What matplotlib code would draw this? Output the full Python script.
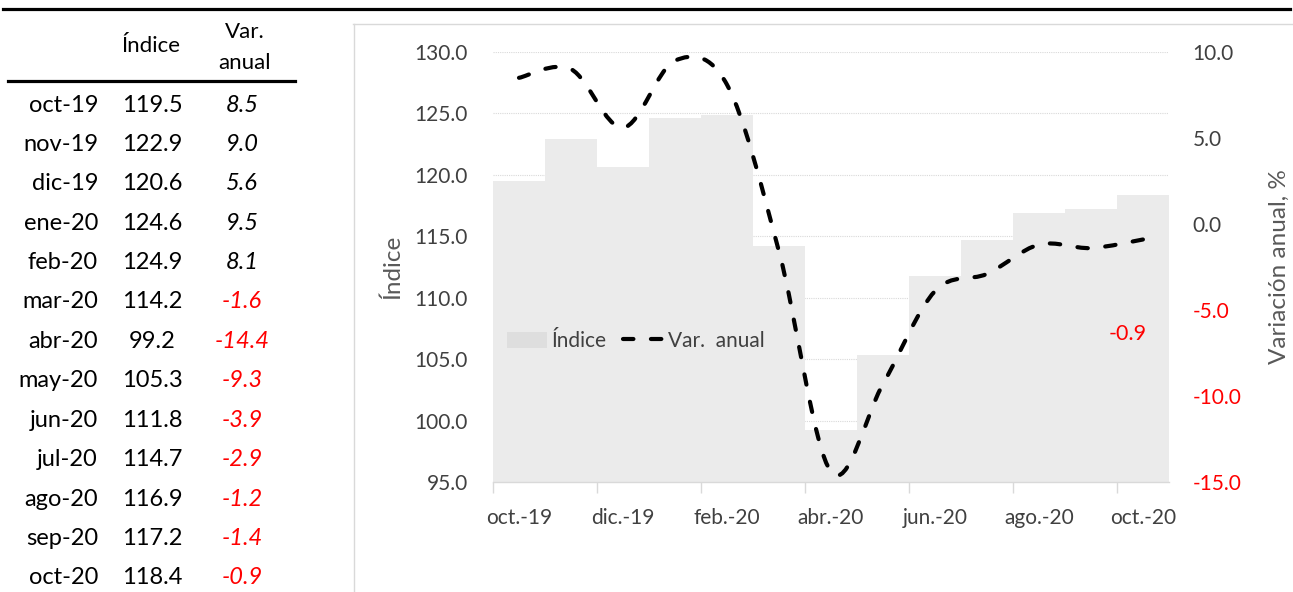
import numpy as np
import matplotlib
matplotlib.use("Agg")
import matplotlib.pyplot as plt
from matplotlib.path import Path
from matplotlib.patches import PathPatch, Patch
from matplotlib.lines import Line2D

# ---------------- data ----------------
months = ["oct-19", "nov-19", "dic-19", "ene-20", "feb-20", "mar-20", "abr-20",
          "may-20", "jun-20", "jul-20", "ago-20", "sep-20", "oct-20"]
indice = [119.5, 122.9, 120.6, 124.6, 124.9, 114.2, 99.2,
          105.3, 111.8, 114.7, 116.9, 117.2, 118.4]
var_anual = [8.5, 9.0, 5.6, 9.5, 8.1, -1.6, -14.4,
             -9.3, -3.9, -2.9, -1.2, -1.4, -0.9]
axis_month_labels = ["oct.-19", "dic.-19", "feb.-20", "abr.-20", "jun.-20", "ago.-20", "oct.-20"]
left_ticks = [95, 100, 105, 110, 115, 120, 125, 130]
right_ticks = [-15, -10, -5, 0, 5, 10]

FONT = "Lato"
plt.rcParams["font.family"] = [FONT, "DejaVu Sans"]

W, H = 1293, 592
fig = plt.figure(figsize=(W / 100, H / 100), dpi=100)
fig.patch.set_facecolor("white")


def fx(px):
    return px / W


def fy(py):
    return 1 - py / H


# ---------------- decorative lines ----------------
fig.add_artist(Line2D([fx(3), fx(1290)], [fy(8.5), fy(8.5)], color="black", lw=2.3))
fig.add_artist(Line2D([fx(8), fx(295)], [fy(80.5), fy(80.5)], color="black", lw=2.3))
# chart area border
fig.add_artist(Line2D([fx(353), fx(1293)], [fy(23.5), fy(23.5)], color="#D9D9D9", lw=1.0))
fig.add_artist(Line2D([fx(353.5), fx(353.5)], [fy(23.5), fy(592)], color="#D9D9D9", lw=1.0))

# ---------------- table ----------------
fig.text(fx(151), fy(46), "Índice", ha="center", va="center", fontsize=16, color="black")
fig.text(fx(245), fy(32), "Var.", ha="center", va="center", fontsize=16, color="black")
fig.text(fx(245), fy(63), "anual", ha="center", va="center", fontsize=16, color="black")

row_y0, row_dy = 105, 39.4
for i, (m, v, r) in enumerate(zip(months, indice, var_anual)):
    y = fy(row_y0 + i * row_dy)
    fig.text(fx(98), y, m, ha="right", va="center", fontsize=17, color="black")
    fig.text(fx(152), y, f"{v:.1f}", ha="center", va="center", fontsize=17, color="black")
    fig.text(fx(242), y, f"{r:.1f}", ha="center", va="center", fontsize=17,
             style="italic", color=("red" if r < 0 else "black"))

# ---------------- chart ----------------
ax_l, ax_r, ax_t, ax_b = 493, 1169, 52, 482
ax = fig.add_axes([fx(ax_l), fy(ax_b), (ax_r - ax_l) / W, (ax_b - ax_t) / H])
ax.set_facecolor("none")
x = np.arange(len(months))
bar_color = "#EBEBEB"
ax.bar(x, indice, width=1.0, color=bar_color, edgecolor="none", zorder=2)
ax.set_xlim(-0.5, len(months) - 0.5)
ax.set_ylim(left_ticks[0], left_ticks[-1])
ax.set_yticks(left_ticks)
ax.set_yticklabels([f"{t:.1f}" for t in left_ticks])
ax.tick_params(axis="y", length=0, pad=18, labelsize=15, labelcolor="#404040")
ax.yaxis.grid(True, color="#D9D9D9", linestyle=(0, (1, 1)), lw=0.8, zorder=0)
ax.set_axisbelow(True)

# x ticks: marks at boundaries, labels at bar centres
ax.set_xticks(np.arange(-0.5, len(months) - 1, 2))
ax.set_xticklabels([])
ax.set_xticks(x[::2], minor=True)
ax.set_xticklabels(axis_month_labels, minor=True)
ax.tick_params(axis="x", which="major", length=8, width=1, color="#D9D9D9")
ax.tick_params(axis="x", which="minor", length=0, pad=19, labelsize=15, labelcolor="#404040")

for s in ["top", "left", "right"]:
    ax.spines[s].set_visible(False)
ax.spines["bottom"].set_color("#D9D9D9")
ax.spines["bottom"].set_linewidth(1.0)

ax.set_ylabel("Índice", fontsize=17.5, color="#595959", labelpad=8)

# secondary axis
ax2 = ax.twinx()
ax2.set_ylim(right_ticks[0], right_ticks[-1])
ax2.set_yticks(right_ticks)
ax2.set_yticklabels([f"{t:.1f}" for t in right_ticks])
ax2.tick_params(axis="y", length=0, pad=17, labelsize=15)
for t, lab in zip(right_ticks, ax2.get_yticklabels()):
    lab.set_color("red" if t < 0 else "#404040")
for s in ax2.spines.values():
    s.set_visible(False)
ax2.set_ylabel("Variación anual, %", fontsize=17.5, color="#595959", labelpad=20)

# smoothed line (Excel-style bezier through the data points)
pts = np.column_stack([x, var_anual]).astype(float)
ext = np.vstack([pts[0], pts, pts[-1]])
verts = [tuple(pts[0])]
codes = [Path.MOVETO]
for i in range(len(pts) - 1):
    p0, p1, p2, p3 = ext[i], ext[i + 1], ext[i + 2], ext[i + 3]
    c1 = p1 + (p2 - p0) / 6.0
    c2 = p2 - (p3 - p1) / 6.0
    verts += [tuple(c1), tuple(c2), tuple(p2)]
    codes += [Path.CURVE4] * 3
dash = (0, (2.5, 4.2))
patch = PathPatch(Path(verts, codes), fill=False, edgecolor="black", lw=3.0,
                  linestyle=dash, capstyle="round", zorder=3)
ax2.add_patch(patch)

# last value label
ax2.annotate(f"{var_anual[-1]:.1f}", xy=(x[-1], -6.4), xytext=(-15, 0),
             textcoords="offset pixels", ha="center", va="center",
             fontsize=15.5, color="red")

# legend
handles = [Patch(facecolor="#DEDEDE", edgecolor="none"),
           Line2D([], [], color="black", lw=3.0, linestyle=dash, dash_capstyle="round")]
leg = ax2.legend(handles, ["Índice", "Var.  anual"], loc="center left",
                 bbox_to_anchor=(fx(507), fy(341)), bbox_transform=fig.transFigure,
                 ncol=2, frameon=False, fontsize=15, handlelength=1.9,
                 handleheight=0.8, handletextpad=0.25, columnspacing=0.8,
                 borderpad=0, borderaxespad=0)
for t in leg.get_texts():
    t.set_color("#404040")

fig.savefig("out.png", dpi=100, facecolor="white")
